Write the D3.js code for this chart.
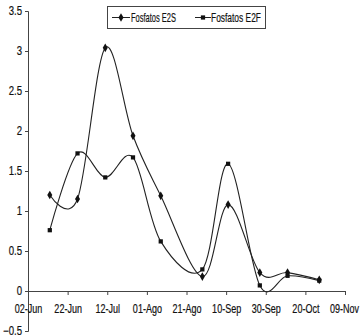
<!DOCTYPE html>
<html>
<head>
<meta charset="utf-8">
<script src="https://cdn.jsdelivr.net/npm/d3@7"></script>
<style>
  body { margin: 0; background: #fff; }
  svg { display: block; }
  text { font-family: "Liberation Sans", Arial, sans-serif; font-size: 11px; fill: #111; stroke: #111; stroke-width: 0.2px; }
</style>
</head>
<body>
<div id="chart"></div>
<script>
// sampling dates (~every two weeks)
var fechas = ["2003-06-13", "2003-06-27", "2003-07-11", "2003-07-25", "2003-08-08",
              "2003-08-29", "2003-09-11", "2003-09-27", "2003-10-11", "2003-10-27"];
var e2s = [1.20, 1.15, 3.04, 1.94, 1.19, 0.18, 1.08, 0.23, 0.23, 0.14];
var e2f = [0.76, 1.72, 1.42, 1.67, 0.62, 0.27, 1.59, 0.07, 0.19, 0.13];
var tickDates = ["2003-06-02", "2003-06-22", "2003-07-12", "2003-08-01", "2003-08-21",
                 "2003-09-10", "2003-09-30", "2003-10-20", "2003-11-09"];
var tickLabels = ["02-Jun", "22-Jun", "12-Jul", "01-Ago", "21-Ago", "10-Sep", "30-Sep", "20-Oct", "09-Nov"];
var yTicks = [-0.5, 0, 0.5, 1, 1.5, 2, 2.5, 3, 3.5];
var seriesNames = ["Fosfatos E2S", "Fosfatos E2F"];

var parse = d3.timeParse("%Y-%m-%d");

var svg = d3.select("#chart").append("svg")
    .attr("width", 361)
    .attr("height", 336);

// no narrow font installed, so squeeze the text like Arial Narrow
function narrow(sel, k) {
    sel.each(function() {
        var w = this.getComputedTextLength();
        d3.select(this)
            .attr("textLength", w * k)
            .attr("lengthAdjust", "spacingAndGlyphs");
    });
}

var x = d3.scaleTime()
    .domain([parse(tickDates[0]), parse(tickDates[tickDates.length - 1])])
    .range([28, 345]);

var y = d3.scaleLinear()
    .domain([-0.5, 3.5])
    .range([331, 11]);

// y axis
var yAxis = svg.append("g")
    .attr("transform", "translate(28,0)")
    .call(d3.axisLeft(y).tickValues(yTicks).tickSize(3).tickPadding(3)
        .tickFormat(function(d) { return d3.format("")(d); }));
yAxis.selectAll("path, line").attr("stroke", "#444");
yAxis.selectAll("text").style("font-size", "12px").call(narrow, 0.8);

// x axis crosses at y = 0
var xAxis = svg.append("g")
    .attr("transform", "translate(0," + y(0) + ")")
    .call(d3.axisBottom(x).tickValues(tickDates.map(parse)).tickSize(4).tickPadding(9)
        .tickFormat(function(d, i) { return tickLabels[i]; }));
xAxis.select(".domain").attr("stroke", "#444");
xAxis.selectAll("line").attr("stroke", "#444");
xAxis.selectAll("text").style("font-size", "12px").call(narrow, 0.75);
// last label sits against the right edge
xAxis.selectAll("text").filter(function(d, i) { return i === tickLabels.length - 1; })
    .attr("text-anchor", "end")
    .attr("x", 13.5);

// smoothed lines, like the spreadsheet ones
var line = d3.line()
    .x(function(d, i) { return x(parse(fechas[i])); })
    .y(function(d) { return y(d); })
    .curve(d3.curveCatmullRom.alpha(0));

[e2s, e2f].forEach(function(s) {
    svg.append("path")
        .datum(s)
        .attr("fill", "none")
        .attr("stroke", "#222")
        .attr("stroke-width", 1.1)
        .attr("d", line);
});

var diamond = d3.symbol().type(d3.symbolDiamond).size(22);
var square = d3.symbol().type(d3.symbolSquare).size(18);

svg.append("g").selectAll("path")
    .data(e2s)
    .join("path")
    .attr("d", diamond)
    .attr("fill", "#111")
    .attr("transform", function(d, i) { return "translate(" + x(parse(fechas[i])) + "," + y(d) + ")"; });

svg.append("g").selectAll("path")
    .data(e2f)
    .join("path")
    .attr("d", square)
    .attr("fill", "#111")
    .attr("transform", function(d, i) { return "translate(" + x(parse(fechas[i])) + "," + y(d) + ")"; });

// legend
var lg = svg.append("g");
lg.append("rect")
    .attr("x", 107.5).attr("y", 6.5)
    .attr("width", 158).attr("height", 22)
    .attr("fill", "#fff").attr("stroke", "#444");

var items = [
    {x: 112, w: 18, tx: 131, tw: 45, sym: diamond},
    {x: 195, w: 16, tx: 211, tw: 50, sym: square}
];
items.forEach(function(it, i) {
    lg.append("line")
        .attr("x1", it.x).attr("x2", it.x + it.w)
        .attr("y1", 17.5).attr("y2", 17.5)
        .attr("stroke", "#222");
    lg.append("path")
        .attr("d", it.sym)
        .attr("fill", "#111")
        .attr("transform", "translate(" + (it.x + it.w / 2) + ",17.5)");
    lg.append("text")
        .attr("x", it.tx)
        .attr("y", 22)
        .attr("textLength", it.tw)
        .attr("lengthAdjust", "spacingAndGlyphs")
        .style("font-size", "13px")
        .text(seriesNames[i]);
});
</script>
</body>
</html>
